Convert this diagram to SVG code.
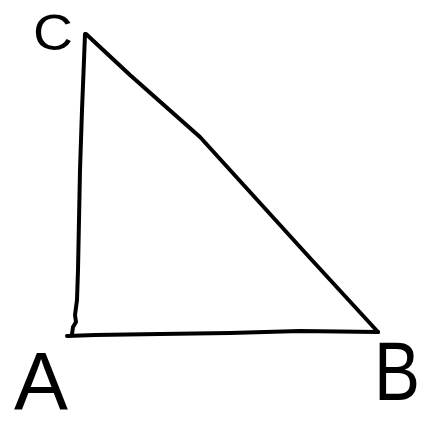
<svg xmlns="http://www.w3.org/2000/svg" width="430" height="429" viewBox="0 0 430 429">
<style>
.edge{fill:none;stroke:#000;stroke-width:4;stroke-linecap:round;stroke-linejoin:round}
.lbl{font-family:"Liberation Sans",Arial,sans-serif;fill:#000}
</style>
<rect width="430" height="429" fill="#fff"/>
<g id="connectors">
<path class="edge" d="M85,34 L84,60 L82,110 L80,170 L79,220 L78,270 L77,300 L75,315 L76,322 L73,327 L72,334"/>
<path class="edge" d="M67,336 L95,335 L160,334 L230,333 L300,331 L378,332"/>
<path class="edge" d="M86,34 L130,75 L200,137 L250,192 L310,258 L378,332"/>
</g>
<g id="node-C"><text class="lbl" x="33" y="50" font-size="50" textLength="40" lengthAdjust="spacingAndGlyphs">C</text></g>
<g id="node-A"><text class="lbl" x="14" y="409" font-size="82" textLength="54" lengthAdjust="spacingAndGlyphs">A</text></g>
<g id="node-B"><text class="lbl" x="374" y="400" font-size="84" textLength="46" lengthAdjust="spacingAndGlyphs">B</text></g>
</svg>
